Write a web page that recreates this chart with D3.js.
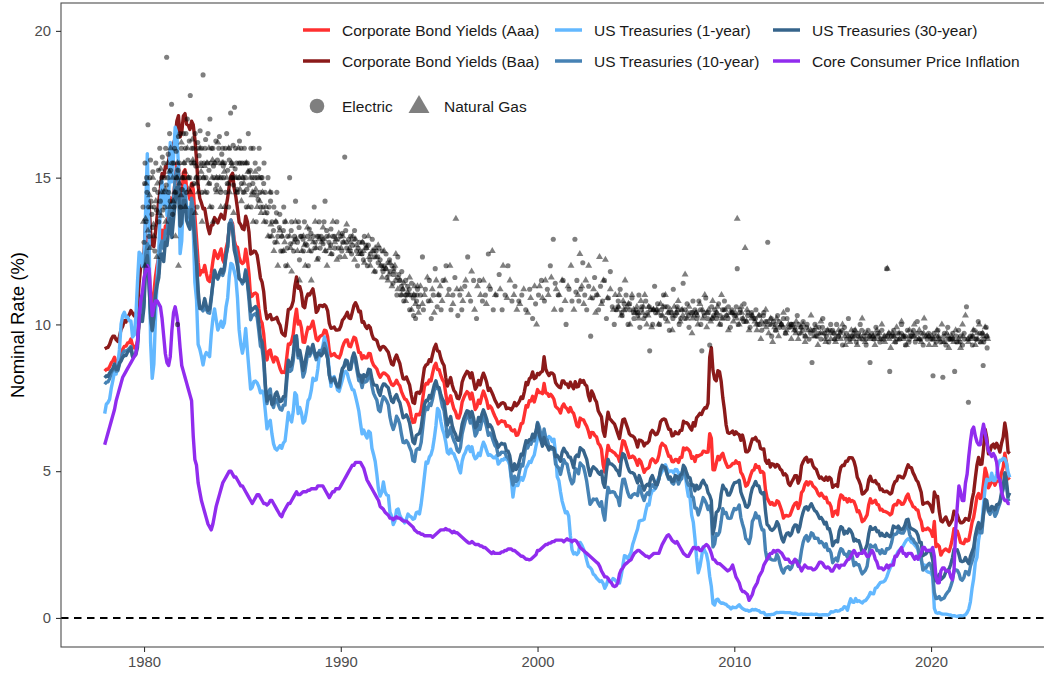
<!DOCTYPE html>
<html><head><meta charset="utf-8">
<script src="https://cdn.jsdelivr.net/npm/d3@7"></script>
<style>body{margin:0;background:#fff;}svg{display:block;font-family:"Liberation Sans",Arial,Helvetica,sans-serif;}</style>
</head><body>
<svg id="chart" width="1044" height="673"></svg>
<script>
// ---------- DATA ----------
const startYear = 1978; // monthly observations, January 1978 .. January 2024
const seriesNames = ["Corporate Bond Yields (Aaa)","Corporate Bond Yields (Baa)","US Treasuries (1-year)","US Treasuries (10-year)","US Treasuries (30-year)","Core Consumer Price Inflation"];
const seriesColors = ["#FF3030","#8B1A1A","#63B8FF","#4682B4","#36648B","#912CEE"];
const xTicks = [1980,1990,2000,2010,2020];
const yTicks = [0,5,10,15,20];
const shapeNames = ["Electric","Natural Gas"];

const aaa = [
8.41,8.47,8.47,8.56,8.69,8.76,8.88,8.69,8.69,8.89,9.03,9.16,
9.25,9.26,9.37,9.38,9.50,9.29,9.20,9.23,9.44,10.13,10.76,10.74,
11.09,12.38,12.96,12.04,10.99,10.58,11.07,11.64,12.02,12.31,12.97,13.21,
12.81,13.35,13.33,13.88,14.32,13.75,14.38,14.89,15.49,15.40,14.22,14.23,
15.18,15.27,14.58,14.46,14.26,14.81,14.61,13.71,12.94,12.12,11.68,11.83,
11.79,12.01,11.73,11.51,11.46,11.74,12.15,12.51,12.37,12.25,12.41,12.57,
12.20,12.08,12.57,12.81,13.28,13.55,13.44,12.87,12.66,12.63,12.29,12.13,
12.08,12.13,12.56,12.23,11.72,10.94,10.97,11.05,11.07,11.02,10.55,10.16,
10.05,9.67,9.00,8.79,9.09,9.13,8.88,8.72,8.89,8.86,8.68,8.49,
8.36,8.38,8.36,8.85,9.33,9.32,9.42,9.67,10.18,10.52,10.01,10.11,
9.88,9.40,9.39,9.67,9.90,9.86,9.96,10.11,9.82,9.51,9.45,9.57,
9.62,9.64,9.80,9.79,9.57,9.10,8.93,8.96,9.01,8.92,8.89,8.86,
8.99,9.22,9.37,9.46,9.47,9.26,9.24,9.41,9.56,9.53,9.30,9.05,
9.04,8.83,8.93,8.86,8.86,9.01,9.00,8.75,8.61,8.55,8.48,8.31,
8.20,8.29,8.35,8.33,8.28,8.22,8.07,7.95,7.92,7.99,8.10,7.98,
7.91,7.71,7.58,7.46,7.43,7.33,7.17,6.85,6.66,6.67,6.93,6.93,
6.92,7.08,7.48,7.88,7.99,7.97,8.11,8.07,8.34,8.57,8.68,8.46,
8.46,8.26,8.12,8.03,7.65,7.30,7.41,7.57,7.32,7.12,7.02,6.82,
6.81,6.99,7.35,7.50,7.62,7.71,7.65,7.46,7.66,7.39,7.10,7.20,
7.42,7.31,7.55,7.73,7.58,7.41,7.14,7.22,7.15,7.00,6.87,6.76,
6.61,6.67,6.72,6.69,6.69,6.53,6.55,6.52,6.40,6.37,6.41,6.22,
6.24,6.40,6.62,6.64,6.93,7.23,7.19,7.40,7.39,7.55,7.36,7.55,
7.78,7.68,7.68,7.64,7.99,7.67,7.65,7.55,7.62,7.55,7.45,7.21,
7.15,7.10,6.98,7.20,7.29,7.18,7.13,7.02,7.17,7.03,6.97,6.77,
6.55,6.51,6.81,6.76,6.75,6.63,6.53,6.37,6.15,6.32,6.31,6.21,
6.17,5.95,5.89,5.74,5.22,4.97,5.49,5.88,5.72,5.70,5.65,5.62,
5.54,5.50,5.33,5.73,6.04,6.01,5.82,5.65,5.46,5.47,5.52,5.47,
5.36,5.20,5.40,5.33,5.15,4.96,5.06,5.09,5.13,5.35,5.42,5.37,
5.29,5.35,5.53,5.84,5.95,5.89,5.85,5.68,5.51,5.51,5.33,5.32,
5.40,5.39,5.30,5.47,5.47,5.79,5.73,5.79,5.74,5.66,5.44,5.49,
5.33,5.53,5.51,5.55,5.57,5.68,5.67,5.64,5.65,6.28,6.12,5.05,
5.05,5.27,5.50,5.39,5.54,5.61,5.41,5.26,5.13,5.15,5.19,5.26,
5.26,5.35,5.27,5.29,4.96,4.88,4.72,4.49,4.53,4.68,4.87,5.02,
5.04,5.22,5.13,5.16,4.96,4.99,4.93,4.37,4.09,3.98,3.87,3.93,
3.85,3.85,3.99,3.96,3.80,3.64,3.40,3.48,3.49,3.47,3.50,3.65,
3.80,3.90,3.93,3.73,3.89,4.27,4.34,4.54,4.64,4.53,4.63,4.62,
4.49,4.45,4.38,4.24,4.16,4.25,4.16,4.08,4.11,3.92,3.92,3.79,
3.46,3.61,3.64,3.52,3.98,4.19,4.15,4.04,4.07,3.95,4.06,3.97,
4.00,3.96,3.82,3.62,3.65,3.50,3.28,3.32,3.41,3.51,3.86,4.06,
3.92,3.95,4.01,3.87,3.85,3.68,3.70,3.63,3.63,3.60,3.57,3.51,
3.55,3.82,3.87,3.85,4.00,3.96,3.87,3.88,3.98,4.14,4.22,4.02,
3.93,3.79,3.77,3.69,3.67,3.42,3.29,2.98,3.03,3.01,3.06,3.01,
2.94,2.78,3.29,2.43,2.50,2.44,2.14,2.25,2.31,2.35,2.30,2.26,
2.45,2.70,3.04,2.90,2.96,2.79,2.57,2.55,2.53,2.68,2.62,2.65,
2.93,3.25,3.43,3.76,4.13,4.24,4.07,4.13,4.59,5.10,4.90,4.43,
4.53,4.68,4.66,4.52,4.67,4.66,4.66,4.95,5.13,5.61,5.28,4.74,
4.79];

const baa = [
9.17,9.20,9.22,9.32,9.49,9.60,9.60,9.48,9.42,9.59,9.83,9.94,
10.13,10.08,10.26,10.33,10.47,10.38,10.29,10.35,10.54,11.40,11.99,12.06,
12.42,13.57,14.45,14.19,13.17,12.71,12.65,13.15,13.70,14.23,14.64,15.14,
15.03,15.37,15.34,15.56,15.95,15.80,16.17,16.34,16.92,17.11,16.39,16.55,
17.10,17.18,16.82,16.78,16.64,16.92,16.80,16.32,15.63,14.73,14.30,14.14,
13.94,13.95,13.61,13.29,13.09,13.37,13.39,13.64,13.55,13.46,13.61,13.75,
13.65,13.59,13.99,14.31,14.74,15.05,15.15,14.63,14.35,13.94,13.48,13.40,
13.26,13.23,13.69,13.51,13.15,12.40,12.43,12.50,12.48,12.36,11.99,11.58,
11.44,11.11,10.50,10.19,10.29,10.34,10.16,10.18,10.20,10.24,10.07,9.97,
9.72,9.65,9.61,10.04,10.51,10.52,10.61,10.80,11.31,11.62,11.23,11.29,
11.07,10.62,10.57,10.90,11.04,11.00,11.11,11.21,10.90,10.41,10.48,10.65,
10.65,10.61,10.67,10.61,10.46,10.03,9.87,9.88,9.91,9.81,9.81,9.82,
9.94,10.14,10.21,10.30,10.41,10.22,10.20,10.41,10.64,10.74,10.62,10.43,
10.45,10.07,10.09,9.94,9.86,9.96,9.89,9.65,9.51,9.49,9.45,9.26,
9.13,9.23,9.25,9.21,9.13,9.05,8.84,8.65,8.62,8.84,8.96,8.81,
8.67,8.39,8.15,8.14,8.21,8.07,7.93,7.60,7.34,7.31,7.66,7.69,
7.65,7.76,8.13,8.52,8.62,8.65,8.80,8.74,8.98,9.20,9.32,9.10,
9.08,8.85,8.70,8.60,8.20,7.90,8.04,8.19,7.93,7.75,7.68,7.49,
7.47,7.63,8.03,8.19,8.30,8.40,8.35,8.18,8.35,8.07,7.79,7.89,
8.09,7.94,8.18,8.34,8.20,8.02,7.75,7.82,7.70,7.57,7.42,7.32,
7.19,7.25,7.32,7.33,7.30,7.13,7.15,7.14,7.09,7.18,7.34,7.23,
7.29,7.39,7.53,7.48,7.72,8.02,7.95,8.15,8.20,8.38,8.15,8.19,
8.33,8.29,8.37,8.40,8.90,8.48,8.35,8.26,8.35,8.34,8.28,8.02,
7.93,7.87,7.84,8.07,8.07,7.97,7.97,7.85,8.03,7.91,7.81,8.05,
7.87,7.89,8.11,8.03,8.09,7.95,7.90,7.58,7.40,7.73,7.62,7.45,
7.35,7.06,6.95,6.85,6.38,6.19,6.62,7.01,6.79,6.73,6.66,6.60,
6.44,6.27,6.11,6.46,6.75,6.78,6.62,6.46,6.27,6.21,6.20,6.15,
6.02,5.82,6.06,6.05,6.01,5.86,5.95,5.96,6.03,6.30,6.39,6.32,
6.24,6.27,6.41,6.68,6.75,6.78,6.76,6.59,6.43,6.42,6.20,6.22,
6.34,6.28,6.27,6.39,6.39,6.70,6.65,6.65,6.59,6.48,6.40,6.65,
6.54,6.82,6.89,6.97,6.93,7.07,7.16,7.15,7.31,8.88,9.21,8.43,
8.14,8.08,8.42,8.39,8.06,7.50,7.09,6.58,6.31,6.29,6.32,6.37,
6.25,6.34,6.27,6.25,6.05,6.23,6.01,5.66,5.66,5.72,5.92,6.10,
6.09,6.15,6.03,6.02,5.78,5.75,5.76,5.36,5.27,5.37,5.14,5.25,
5.23,5.14,5.23,5.19,5.07,5.02,4.87,4.91,4.84,4.58,4.51,4.63,
4.73,4.85,4.85,4.59,4.73,5.19,5.32,5.42,5.47,5.31,5.38,5.38,
5.19,5.10,5.06,4.90,4.76,4.80,4.73,4.69,4.80,4.69,4.79,4.74,
4.45,4.51,4.54,4.48,4.89,5.13,5.20,5.19,5.34,5.34,5.46,5.46,
5.45,5.34,5.13,4.79,4.68,4.53,4.22,4.24,4.31,4.38,4.71,4.83,
4.66,4.64,4.68,4.57,4.55,4.37,4.39,4.31,4.30,4.32,4.27,4.22,
4.26,4.51,4.64,4.67,4.83,4.83,4.79,4.77,4.88,5.07,5.22,5.13,
5.12,4.95,4.84,4.70,4.63,4.46,4.28,3.87,3.91,3.92,3.94,3.88,
3.77,3.61,4.29,4.13,4.14,3.64,3.31,3.27,3.36,3.44,3.30,3.16,
3.24,3.35,3.64,3.53,3.52,3.35,3.24,3.24,3.29,3.39,3.36,3.33,
3.63,4.02,4.28,4.76,5.21,5.47,5.23,5.24,5.76,6.43,6.14,5.59,
5.69,5.87,5.92,5.79,5.95,5.83,5.65,5.95,6.16,6.64,6.29,5.65,
5.60];

const ust1 = [
6.96,7.28,7.34,7.45,7.82,8.09,8.39,8.31,8.64,9.14,10.01,10.30,
10.41,10.24,10.25,10.12,10.12,9.57,9.64,10.24,11.43,12.46,12.39,11.98,
12.06,13.92,15.82,13.30,9.39,8.16,8.65,10.24,11.52,12.49,14.15,14.88,
14.08,14.57,13.71,14.32,16.20,14.86,15.72,16.72,16.52,15.38,12.41,12.85,
14.32,14.73,13.95,13.98,13.34,14.07,13.24,11.43,10.85,9.32,9.16,8.91,
8.62,8.92,9.04,8.98,8.90,9.66,10.20,10.53,10.16,9.81,9.94,10.11,
9.90,10.04,10.59,10.90,11.66,12.08,12.03,11.82,11.58,10.90,9.82,9.33,
9.02,9.29,9.86,9.14,8.46,7.80,7.86,8.05,8.07,8.01,7.88,7.67,
7.73,7.61,7.03,6.44,6.65,6.73,6.27,5.93,5.77,5.72,5.80,5.87,
5.78,5.96,6.03,6.50,7.00,6.80,6.68,7.03,7.67,7.59,6.96,7.17,
6.99,6.64,6.71,7.01,7.40,7.49,7.75,8.17,8.09,8.11,8.48,8.99,
9.05,9.25,9.57,9.36,8.98,8.44,7.89,8.18,8.22,7.99,7.77,7.72,
7.92,8.11,8.35,8.40,8.32,8.10,7.94,7.78,7.76,7.55,7.31,7.05,
6.64,6.27,6.40,6.24,6.13,6.36,6.31,5.78,5.57,5.33,4.89,4.38,
4.15,4.29,4.63,4.30,4.19,4.17,3.60,3.47,3.18,3.30,3.68,3.71,
3.50,3.39,3.33,3.24,3.36,3.54,3.47,3.44,3.36,3.39,3.58,3.61,
3.54,3.87,4.32,4.82,5.31,5.27,5.48,5.56,5.76,6.11,6.54,7.14,
7.05,6.70,6.43,6.27,6.00,5.64,5.59,5.75,5.62,5.59,5.43,5.31,
5.09,4.94,5.34,5.54,5.64,5.81,5.85,5.67,5.83,5.55,5.42,5.47,
5.61,5.53,5.80,5.99,5.87,5.69,5.54,5.56,5.52,5.46,5.46,5.53,
5.24,5.31,5.39,5.38,5.44,5.41,5.36,5.21,4.71,4.12,4.53,4.52,
4.51,4.70,4.78,4.69,4.85,5.10,5.20,5.33,5.30,5.45,5.55,5.84,
6.12,6.22,6.22,6.15,6.33,6.17,6.08,6.18,6.13,6.01,6.09,5.60,
4.81,4.68,4.30,3.98,3.78,3.58,3.62,3.47,2.82,2.33,2.18,2.22,
2.16,2.23,2.57,2.48,2.35,2.20,1.96,1.76,1.72,1.65,1.49,1.45,
1.36,1.30,1.24,1.27,1.18,1.01,1.12,1.31,1.24,1.25,1.34,1.31,
1.24,1.24,1.19,1.43,1.78,2.12,2.10,2.02,2.12,2.23,2.50,2.67,
2.86,3.03,3.30,3.32,3.33,3.36,3.64,3.87,3.85,4.18,4.33,4.35,
4.45,4.68,4.77,4.90,5.00,5.16,5.22,5.08,4.97,5.01,5.01,4.94,
5.06,5.05,4.92,4.93,4.91,4.96,4.96,4.47,4.14,4.10,3.50,3.26,
2.71,2.05,1.54,1.74,2.06,2.42,2.28,2.18,1.91,1.42,1.07,0.49,
0.44,0.62,0.64,0.55,0.50,0.51,0.48,0.46,0.40,0.37,0.31,0.37,
0.35,0.35,0.40,0.45,0.37,0.32,0.29,0.26,0.26,0.23,0.25,0.29,
0.27,0.29,0.26,0.25,0.19,0.18,0.19,0.11,0.10,0.11,0.11,0.12,
0.12,0.16,0.19,0.18,0.19,0.19,0.19,0.18,0.18,0.18,0.18,0.16,
0.15,0.16,0.15,0.12,0.12,0.14,0.12,0.13,0.12,0.12,0.12,0.13,
0.12,0.12,0.13,0.11,0.10,0.10,0.11,0.11,0.11,0.10,0.13,0.21,
0.20,0.22,0.25,0.23,0.24,0.28,0.30,0.38,0.37,0.26,0.48,0.65,
0.54,0.53,0.66,0.56,0.59,0.55,0.51,0.57,0.59,0.66,0.74,0.87,
0.83,0.82,1.01,1.04,1.12,1.20,1.22,1.23,1.28,1.40,1.56,1.70,
1.80,1.96,2.06,2.15,2.27,2.33,2.39,2.45,2.56,2.65,2.70,2.66,
2.58,2.55,2.49,2.42,2.34,2.00,1.96,1.77,1.80,1.61,1.57,1.55,
1.53,1.41,0.33,0.18,0.16,0.18,0.15,0.13,0.13,0.13,0.12,0.10,
0.10,0.07,0.08,0.06,0.05,0.07,0.08,0.07,0.08,0.11,0.18,0.30,
0.55,1.00,1.34,1.89,2.06,2.65,2.98,3.20,3.86,4.43,4.73,4.68,
4.69,4.93,4.68,4.68,4.91,5.24,5.37,5.37,5.44,5.42,5.28,4.96,
4.79];

const ust10 = [
7.96,8.03,8.04,8.15,8.35,8.46,8.64,8.41,8.42,8.64,8.81,9.01,
9.10,9.10,9.12,9.18,9.25,8.91,8.95,9.03,9.33,10.30,10.65,10.39,
10.80,12.41,12.75,11.47,10.18,9.78,10.25,11.10,11.51,11.75,12.68,12.84,
12.57,13.19,13.12,13.68,14.10,13.47,14.28,14.94,15.32,15.15,13.39,13.72,
14.59,14.43,13.86,13.87,13.62,14.30,13.95,13.06,12.34,10.91,10.55,10.54,
10.46,10.72,10.51,10.40,10.38,10.85,11.38,11.85,11.65,11.54,11.69,11.83,
11.67,11.84,12.32,12.63,13.41,13.56,13.36,12.72,12.52,12.16,11.57,11.50,
11.38,11.51,11.86,11.43,10.85,10.16,10.31,10.33,10.37,10.24,9.78,9.26,
9.19,8.70,7.78,7.30,7.71,7.80,7.30,7.17,7.45,7.43,7.25,7.11,
7.08,7.25,7.25,8.02,8.61,8.40,8.45,8.76,9.42,9.52,8.86,8.99,
8.67,8.21,8.37,8.72,9.09,8.92,9.06,9.26,8.98,8.80,8.96,9.11,
9.09,9.17,9.36,9.18,8.86,8.28,8.02,8.11,8.19,8.01,7.87,7.84,
8.21,8.47,8.59,8.79,8.76,8.48,8.47,8.75,8.89,8.72,8.39,8.08,
8.09,7.85,8.11,8.04,8.07,8.28,8.27,7.90,7.65,7.53,7.42,7.09,
7.03,7.34,7.54,7.48,7.39,7.26,6.84,6.59,6.42,6.59,6.87,6.77,
6.60,6.26,5.98,5.97,6.04,5.96,5.81,5.68,5.36,5.33,5.72,5.77,
5.75,5.97,6.48,6.97,7.18,7.10,7.30,7.24,7.46,7.74,7.96,7.81,
7.78,7.47,7.20,7.06,6.63,6.17,6.28,6.49,6.20,6.04,5.93,5.71,
5.65,5.81,6.27,6.51,6.74,6.91,6.87,6.64,6.83,6.53,6.20,6.30,
6.58,6.42,6.69,6.89,6.71,6.49,6.22,6.30,6.21,6.03,5.88,5.81,
5.54,5.57,5.65,5.64,5.65,5.50,5.46,5.34,4.81,4.53,4.83,4.65,
4.72,5.00,5.23,5.18,5.54,5.90,5.79,5.94,5.92,6.11,6.03,6.28,
6.66,6.52,6.26,5.99,6.44,6.10,6.05,5.83,5.80,5.74,5.72,5.24,
5.16,5.10,4.89,5.14,5.39,5.28,5.24,4.97,4.73,4.57,4.65,5.09,
5.04,4.91,5.28,5.21,5.16,4.93,4.65,4.26,3.87,3.94,4.05,4.03,
4.05,3.90,3.81,3.96,3.57,3.33,3.98,4.45,4.27,4.29,4.30,4.27,
4.15,4.08,3.83,4.35,4.72,4.73,4.50,4.28,4.13,4.10,4.19,4.23,
4.22,4.17,4.50,4.34,4.14,4.00,4.18,4.26,4.20,4.46,4.54,4.47,
4.42,4.57,4.72,4.99,5.11,5.11,5.09,4.88,4.72,4.73,4.60,4.56,
4.76,4.72,4.56,4.69,4.75,5.10,5.00,4.67,4.52,4.53,4.15,4.10,
3.74,3.74,3.51,3.68,3.88,4.10,4.01,3.89,3.69,3.81,3.53,2.42,
2.52,2.87,2.82,2.93,3.29,3.72,3.56,3.59,3.40,3.39,3.40,3.59,
3.73,3.69,3.73,3.85,3.42,3.20,3.01,2.70,2.65,2.54,2.76,3.29,
3.39,3.58,3.41,3.46,3.17,3.00,3.00,2.30,1.98,2.15,2.01,1.98,
1.97,1.97,2.17,2.05,1.80,1.62,1.53,1.68,1.72,1.75,1.65,1.72,
1.91,1.98,1.96,1.76,1.93,2.30,2.58,2.74,2.81,2.62,2.72,2.90,
2.86,2.71,2.72,2.71,2.56,2.60,2.54,2.42,2.53,2.30,2.33,2.21,
1.88,1.98,2.04,1.94,2.20,2.36,2.32,2.17,2.17,2.07,2.26,2.24,
2.09,1.78,1.89,1.81,1.81,1.64,1.50,1.56,1.63,1.76,2.14,2.49,
2.43,2.42,2.48,2.30,2.30,2.19,2.32,2.21,2.20,2.36,2.35,2.40,
2.58,2.86,2.84,2.87,2.98,2.91,2.89,2.89,3.00,3.15,3.12,2.83,
2.71,2.68,2.57,2.53,2.40,2.07,2.06,1.63,1.70,1.71,1.81,1.86,
1.76,1.50,0.87,0.66,0.67,0.73,0.62,0.65,0.68,0.79,0.87,0.93,
1.08,1.26,1.61,1.64,1.62,1.52,1.32,1.28,1.37,1.58,1.56,1.47,
1.76,1.93,2.13,2.75,2.90,3.14,2.90,2.90,3.52,3.98,3.89,3.62,
3.53,3.75,3.66,3.46,3.57,3.75,3.90,4.17,4.38,4.80,4.50,4.02,
4.06];

const ust30 = [
8.18,8.25,8.23,8.34,8.43,8.50,8.65,8.47,8.47,8.69,8.75,8.88,
8.94,8.94,9.06,9.12,9.20,8.90,8.92,8.97,9.21,10.07,10.31,10.10,
10.60,12.13,12.34,11.40,10.36,9.81,10.24,11.00,11.34,11.59,12.37,12.40,
12.14,12.80,12.69,13.20,13.60,12.96,13.59,14.17,14.67,14.68,13.35,13.45,
14.22,14.22,13.53,13.37,13.24,13.92,13.55,12.77,12.07,11.17,10.54,10.54,
10.63,10.88,10.63,10.48,10.53,10.93,11.40,11.82,11.63,11.58,11.75,11.88,
11.75,11.95,12.38,12.65,13.43,13.44,13.21,12.54,12.29,11.98,11.56,11.52,
11.45,11.47,11.81,11.47,11.05,10.45,10.50,10.56,10.61,10.50,10.06,9.54,
9.40,8.93,7.96,7.39,7.52,7.57,7.27,7.33,7.62,7.70,7.52,7.37,
7.39,7.54,7.55,8.25,8.78,8.57,8.64,8.97,9.59,9.61,8.95,9.12,
8.83,8.43,8.63,8.95,9.23,9.00,9.14,9.32,9.06,8.89,9.02,9.01,
8.93,9.01,9.17,9.03,8.83,8.27,8.08,8.12,8.15,8.00,7.90,7.90,
8.26,8.50,8.56,8.76,8.73,8.46,8.50,8.86,9.03,8.86,8.54,8.24,
8.27,8.03,8.29,8.21,8.27,8.47,8.45,8.14,7.95,7.93,7.92,7.70,
7.58,7.85,7.97,7.96,7.89,7.84,7.60,7.39,7.34,7.53,7.61,7.44,
7.34,7.09,6.82,6.85,6.92,6.81,6.63,6.32,6.00,5.94,6.21,6.25,
6.29,6.49,6.91,7.27,7.41,7.40,7.58,7.49,7.71,7.94,8.08,7.87,
7.85,7.61,7.45,7.36,6.95,6.57,6.72,6.86,6.55,6.37,6.26,6.06,
6.05,6.24,6.60,6.79,6.93,7.06,7.03,6.84,7.03,6.81,6.48,6.55,
6.83,6.69,6.93,7.09,6.94,6.77,6.51,6.58,6.50,6.33,6.11,5.99,
5.81,5.89,5.95,5.92,5.93,5.70,5.68,5.54,5.20,5.01,5.25,5.06,
5.16,5.37,5.58,5.55,5.81,6.04,5.98,6.07,6.07,6.26,6.15,6.35,
6.63,6.23,6.05,5.85,6.15,5.93,5.85,5.72,5.83,5.80,5.78,5.49,
5.54,5.45,5.34,5.65,5.78,5.67,5.61,5.48,5.48,5.32,5.12,5.48,
5.55,5.50,5.80,5.75,5.70,5.55,5.40,5.10,4.85,5.05,5.15,5.10,
5.05,4.95,4.90,5.00,4.60,4.45,5.00,5.40,5.25,5.25,5.20,5.15,
5.05,5.00,4.85,5.35,5.60,5.55,5.35,5.15,5.00,4.95,4.95,4.90,
4.75,4.60,4.85,4.70,4.50,4.35,4.50,4.55,4.50,4.75,4.85,4.70,
4.55,4.54,4.73,5.06,5.20,5.15,5.13,4.91,4.77,4.80,4.65,4.66,
4.85,4.82,4.72,4.87,4.90,5.20,5.11,4.93,4.79,4.77,4.52,4.53,
4.33,4.52,4.39,4.44,4.60,4.69,4.57,4.50,4.27,4.17,4.00,2.87,
3.13,3.59,3.64,3.76,4.23,4.52,4.41,4.37,4.19,4.19,4.31,4.49,
4.60,4.62,4.64,4.69,4.29,4.13,3.99,3.80,3.77,3.87,4.19,4.42,
4.52,4.65,4.51,4.50,4.29,4.23,4.27,3.65,3.18,3.13,3.02,2.98,
3.03,3.11,3.28,3.18,2.93,2.70,2.59,2.77,2.88,2.90,2.80,2.88,
3.08,3.17,3.16,2.93,3.11,3.40,3.61,3.76,3.79,3.68,3.80,3.89,
3.77,3.66,3.62,3.52,3.39,3.42,3.33,3.20,3.26,3.04,3.04,2.83,
2.46,2.57,2.63,2.59,2.96,3.11,3.07,2.86,2.95,2.89,3.03,2.97,
2.86,2.62,2.68,2.62,2.63,2.45,2.23,2.26,2.35,2.50,2.86,3.11,
3.02,3.03,3.08,2.94,2.96,2.80,2.88,2.80,2.78,2.88,2.80,2.77,
2.88,3.13,3.09,3.07,3.13,3.05,3.01,3.04,3.15,3.34,3.36,3.10,
3.04,3.02,2.98,2.94,2.82,2.57,2.57,2.12,2.16,2.19,2.28,2.30,
2.22,1.97,1.46,1.27,1.38,1.49,1.31,1.36,1.42,1.57,1.62,1.67,
1.82,2.04,2.34,2.30,2.32,2.16,1.94,1.92,1.94,2.06,1.94,1.85,
2.10,2.25,2.41,2.81,3.07,3.25,3.04,3.13,3.56,4.04,4.00,3.66,
3.66,3.80,3.77,3.68,3.86,3.87,3.96,4.28,4.47,4.95,4.66,4.14,
4.26];

const coreCPI = [
5.9,6.1,6.3,6.5,6.7,6.9,7.1,7.4,7.6,7.8,8.0,8.2,
8.3,8.4,8.5,8.6,8.7,8.8,8.9,9.0,9.4,10.2,10.8,11.1,
11.6,11.8,12.0,11.9,11.0,10.3,10.6,10.8,10.8,10.7,10.6,10.2,
9.6,9.0,8.7,8.6,8.9,9.8,10.4,10.6,10.3,9.9,9.2,8.6,
8.4,8.2,8.0,7.8,7.6,7.4,6.2,5.4,5.2,4.6,4.3,4.0,
3.8,3.6,3.4,3.2,3.1,3.0,3.2,3.5,3.8,4.0,4.2,4.4,
4.6,4.7,4.8,4.9,5.0,5.0,4.9,4.8,4.8,4.7,4.6,4.5,
4.5,4.4,4.3,4.2,4.1,4.0,3.9,4.0,4.1,4.2,4.2,4.1,
4.0,3.9,3.9,3.85,3.9,4.0,4.0,3.9,3.8,3.7,3.6,3.5,
3.45,3.6,3.7,3.8,3.9,3.9,4.0,4.1,4.2,4.3,4.2,4.2,
4.25,4.3,4.3,4.3,4.35,4.35,4.4,4.4,4.4,4.4,4.5,4.5,
4.5,4.5,4.4,4.3,4.2,4.1,4.2,4.3,4.3,4.4,4.4,4.4,
4.5,4.6,4.7,4.8,4.9,5.0,5.1,5.2,5.2,5.3,5.3,5.3,
5.3,5.2,5.1,4.9,4.7,4.6,4.5,4.4,4.3,4.2,4.1,4.0,
3.8,3.75,3.7,3.6,3.55,3.5,3.4,3.4,3.35,3.4,3.45,3.4,
3.4,3.35,3.3,3.3,3.3,3.25,3.2,3.15,3.1,3.0,2.95,2.9,
2.9,2.85,2.85,2.8,2.8,2.8,2.8,2.8,2.75,2.8,2.85,2.9,
2.95,3.0,3.0,3.0,3.05,3.0,3.0,2.95,2.9,2.95,2.9,2.9,
2.85,2.8,2.75,2.7,2.65,2.6,2.55,2.55,2.6,2.55,2.5,2.5,
2.5,2.45,2.45,2.4,2.4,2.35,2.3,2.25,2.2,2.25,2.2,2.2,
2.2,2.2,2.25,2.25,2.3,2.3,2.35,2.35,2.35,2.3,2.3,2.25,
2.2,2.15,2.1,2.1,2.05,2.0,2.0,1.98,2.0,2.05,2.1,2.15,
2.3,2.3,2.35,2.4,2.45,2.5,2.5,2.55,2.55,2.6,2.6,2.65,
2.65,2.65,2.65,2.65,2.6,2.65,2.7,2.65,2.65,2.6,2.65,2.65,
2.6,2.5,2.4,2.35,2.3,2.25,2.2,2.15,2.1,2.05,2.0,1.95,
1.9,1.85,1.75,1.6,1.5,1.4,1.4,1.35,1.25,1.2,1.1,1.07,
1.1,1.2,1.5,1.64,1.7,1.8,1.85,1.9,1.95,1.98,2.1,2.2,
2.25,2.3,2.3,2.25,2.2,2.15,2.1,2.1,2.05,2.1,2.15,2.2,
2.2,2.2,2.2,2.35,2.5,2.6,2.7,2.8,2.83,2.75,2.65,2.6,
2.55,2.6,2.5,2.4,2.3,2.2,2.15,2.1,2.1,2.2,2.3,2.4,
2.4,2.35,2.4,2.3,2.3,2.4,2.45,2.5,2.45,2.35,2.2,2.0,
1.98,1.9,1.85,1.85,1.8,1.75,1.7,1.65,1.6,1.64,1.7,1.8,
1.6,1.4,1.3,1.2,1.0,0.9,0.9,0.85,0.8,0.6,0.7,0.8,
1.0,1.1,1.2,1.4,1.5,1.6,1.8,1.9,2.0,2.1,2.2,2.2,
2.3,2.25,2.3,2.3,2.25,2.2,2.1,2.0,2.0,2.0,1.9,1.87,
1.9,2.0,1.9,1.8,1.74,1.6,1.7,1.8,1.74,1.7,1.7,1.7,
1.64,1.65,1.7,1.8,1.9,1.9,1.85,1.75,1.7,1.74,1.7,1.6,
1.6,1.7,1.8,1.8,1.7,1.8,1.8,1.8,1.9,1.98,2.0,2.1,
2.2,2.3,2.2,2.1,2.2,2.2,2.2,2.3,2.2,2.1,2.1,2.2,
2.3,2.2,2.0,1.9,1.7,1.7,1.7,1.64,1.7,1.8,1.7,1.8,
1.8,1.8,2.1,2.1,2.2,2.3,2.4,2.2,2.2,2.1,2.2,2.2,
2.2,2.1,2.0,2.1,2.0,2.1,2.2,2.4,2.4,2.3,2.3,2.3,
2.3,2.4,2.1,1.4,1.2,1.2,1.6,1.7,1.7,1.6,1.6,1.6,
1.4,1.3,1.6,3.0,3.8,4.5,4.3,4.0,4.0,4.6,4.9,5.5,
6.0,6.4,6.5,6.2,6.0,5.9,5.9,6.3,6.6,6.3,6.0,5.7,
5.6,5.5,5.6,5.5,5.3,4.8,4.7,4.3,4.1,4.0,4.0,3.9,
3.9];

// authorized returns on equity in rate cases: [decision date (decimal year), ROE %]
const electric = [
[1979.95,14.0],[1980.0,12.8],[1980.05,15.5],[1980.1,13.5],[1980.15,14.5],[1980.2,16.8],[1980.25,13.0],[1980.3,15.0],[1980.35,14.2],[1980.4,13.75],[1980.45,15.2],[1980.5,14.0],[1980.55,12.5],[1980.6,15.5],[1980.7,14.5],[1980.75,13.5],[1980.8,16.0],[1980.85,14.85],[1980.9,15.0],[1980.95,13.9],
[1980.03,14.8],[1980.13,15.0],[1980.23,14.0],[1980.33,15.6],[1980.43,13.3],[1980.53,14.6],[1980.63,13.9],[1980.73,15.25],[1980.83,14.2],[1980.93,15.7],
[1981.0,15.5],[1981.05,14.0],[1981.1,16.0],[1981.15,19.1],[1981.2,15.0],[1981.25,14.5],[1981.3,16.5],[1981.35,15.25],[1981.4,17.5],[1981.45,13.75],[1981.5,15.5],[1981.55,16.0],[1981.6,14.5],[1981.65,15.0],[1981.7,10.0],[1981.75,16.4],[1981.8,15.5],[1981.85,14.0],[1981.9,16.0],[1981.95,15.0],
[1981.03,15.0],[1981.13,14.75],[1981.23,15.8],[1981.33,14.2],[1981.43,15.5],[1981.53,14.0],[1981.63,15.9],[1981.73,15.25],[1981.83,16.5],[1981.93,14.6],
[1982.0,16.5],[1982.05,15.5],[1982.1,16.0],[1982.15,14.5],[1982.2,17.0],[1982.25,15.0],[1982.3,16.25],[1982.35,17.8],[1982.4,15.5],[1982.45,14.75],[1982.5,16.0],[1982.55,15.5],[1982.6,16.5],[1982.65,15.0],[1982.7,14.0],[1982.75,16.0],[1982.8,15.75],[1982.85,16.6],[1982.9,15.5],[1982.95,14.5],
[1982.03,15.0],[1982.13,16.5],[1982.23,15.6],[1982.33,15.0],[1982.43,16.0],[1982.53,14.8],[1982.63,15.4],[1982.73,16.2],[1982.83,15.0],[1982.93,16.0],
[1983.0,18.5],[1983.05,15.5],[1983.1,16.0],[1983.15,15.0],[1983.2,14.5],[1983.25,16.5],[1983.3,15.25],[1983.35,17.0],[1983.4,15.5],[1983.45,14.0],[1983.5,16.0],[1983.55,15.0],[1983.6,15.5],[1983.65,16.25],[1983.7,14.75],[1983.75,15.0],[1983.8,16.0],[1983.85,15.5],[1983.9,14.5],[1983.95,15.8],
[1983.03,15.0],[1983.13,16.3],[1983.23,15.5],[1983.33,14.8],[1983.43,16.0],[1983.53,15.4],[1983.63,14.6],[1983.73,15.6],[1983.83,16.4],[1983.93,15.0],
[1984.0,16.0],[1984.05,15.0],[1984.1,15.5],[1984.15,14.5],[1984.2,16.5],[1984.25,15.25],[1984.3,14.0],[1984.35,16.0],[1984.4,17.2],[1984.45,15.5],[1984.5,15.0],[1984.55,14.75],[1984.6,17.4],[1984.65,16.0],[1984.7,15.5],[1984.75,14.5],[1984.8,15.0],[1984.85,16.25],[1984.9,15.5],[1984.95,14.8],
[1984.03,15.4],[1984.13,16.0],[1984.23,14.8],[1984.33,15.6],[1984.43,15.0],[1984.53,16.1],[1984.63,15.3],[1984.73,14.6],[1984.83,15.5],[1984.93,16.0],
[1985.0,15.5],[1985.05,14.5],[1985.1,16.0],[1985.15,15.0],[1985.2,14.0],[1985.25,15.5],[1985.3,16.5],[1985.35,14.75],[1985.4,15.25],[1985.45,14.0],[1985.5,15.0],[1985.55,16.0],[1985.6,14.5],[1985.65,15.5],[1985.7,13.5],[1985.75,15.0],[1985.8,14.25],[1985.85,16.0],[1985.9,14.5],[1985.95,15.0],
[1985.03,15.0],[1985.13,15.5],[1985.23,14.6],[1985.33,15.2],[1985.43,16.0],[1985.53,14.8],[1985.63,15.0],[1985.73,14.4],[1985.83,15.3],[1985.93,14.0],
[1986.0,15.0],[1986.05,14.0],[1986.1,15.5],[1986.15,14.5],[1986.2,13.5],[1986.3,15.0],[1986.35,14.0],[1986.4,13.0],[1986.45,14.5],[1986.5,13.5],[1986.6,14.0],[1986.65,12.8],[1986.7,13.5],[1986.75,14.5],[1986.8,13.0],[1986.9,13.75],[1986.95,12.5],
[1986.08,14.8],[1986.25,13.8],[1986.43,14.2],[1986.58,13.2],[1986.73,13.8],[1986.88,13.3],
[1987.0,13.0],[1987.05,12.5],[1987.1,14.0],[1987.15,13.5],[1987.2,12.0],[1987.3,13.0],[1987.4,15.0],[1987.45,12.75],[1987.5,13.5],[1987.6,12.5],[1987.65,13.0],[1987.7,14.2],[1987.8,12.8],[1987.85,13.5],[1987.9,12.2],[1987.95,13.0],
[1987.08,13.2],[1987.28,12.6],[1987.48,13.2],[1987.68,12.9],[1987.88,13.3],
[1988.0,13.0],[1988.1,12.5],[1988.15,13.5],[1988.2,12.75],[1988.3,13.0],[1988.35,12.0],[1988.4,13.25],[1988.5,12.5],[1988.6,13.0],[1988.65,14.0],[1988.7,12.8],[1988.8,13.0],[1988.85,12.25],[1988.9,13.5],[1988.95,12.6],
[1988.08,12.9],[1988.28,12.7],[1988.48,13.1],[1988.68,12.6],[1988.88,13.0],
[1989.0,13.0],[1989.1,12.75],[1989.15,13.5],[1989.2,14.2],[1989.25,12.5],[1989.3,13.0],[1989.4,12.8],[1989.5,13.25],[1989.55,12.4],[1989.6,13.0],[1989.7,12.6],[1989.8,13.5],[1989.85,12.9],[1989.95,12.3],
[1989.08,12.9],[1989.28,13.2],[1989.48,12.7],[1989.68,13.0],[1989.88,12.6],
[1990.0,13.0],[1990.05,12.5],[1990.1,12.8],[1990.2,15.7],[1990.25,13.2],[1990.3,12.6],[1990.4,12.9],[1990.5,13.0],[1990.55,12.4],[1990.6,12.7],[1990.7,13.2],[1990.8,12.5],[1990.85,12.0],[1990.95,12.8],
[1990.08,13.1],[1990.28,12.8],[1990.48,12.5],[1990.68,12.9],[1990.88,12.6],
[1991.0,12.5],[1991.1,12.8],[1991.15,12.2],[1991.2,13.0],[1991.3,12.6],[1991.35,12.0],[1991.4,12.7],[1991.5,12.4],[1991.6,12.9],[1991.7,12.3],[1991.75,11.8],[1991.8,12.5],[1991.9,12.1],[1991.95,12.6],
[1991.08,12.4],[1991.28,12.7],[1991.48,12.2],[1991.68,12.5],[1991.88,12.3],
[1992.0,12.2],[1992.1,12.5],[1992.15,11.8],[1992.2,12.0],[1992.3,12.4],[1992.35,11.6],[1992.4,12.1],[1992.5,11.8],[1992.6,12.0],[1992.65,11.4],[1992.7,11.9],[1992.8,11.5],[1992.85,11.0],[1992.9,12.3],[1992.95,11.7],
[1992.08,12.0],[1992.28,11.9],[1992.48,12.2],[1992.68,11.7],[1992.88,11.6],
[1993.0,11.5],[1993.05,11.0],[1993.1,11.8],[1993.15,11.2],[1993.2,10.8],[1993.3,11.5],[1993.35,11.0],[1993.4,11.3],[1993.5,10.5],[1993.55,11.0],[1993.6,11.4],[1993.7,10.3],[1993.75,11.0],[1993.8,10.2],[1993.85,10.8],[1993.9,11.2],[1993.95,10.6],
[1993.08,11.3],[1993.28,11.0],[1993.48,11.2],[1993.68,10.9],[1993.88,11.0],
[1994.05,11.0],[1994.15,12.3],[1994.2,10.5],[1994.3,11.2],[1994.45,10.8],[1994.5,11.5],[1994.6,10.2],[1994.7,11.0],[1994.8,11.9],[1994.9,10.6],
[1995.0,11.0],[1995.1,10.5],[1995.2,11.5],[1995.35,12.0],[1995.5,11.2],[1995.6,10.5],[1995.7,11.0],[1995.8,11.6],[1995.95,10.3],
[1996.05,11.0],[1996.15,10.5],[1996.3,11.3],[1996.45,12.3],[1996.6,10.8],[1996.75,11.5],[1996.9,10.2],
[1997.05,11.5],[1997.2,10.8],[1997.35,11.0],[1997.5,12.4],[1997.6,11.2],[1997.75,10.5],[1997.9,11.0],
[1998.05,11.7],[1998.2,10.5],[1998.35,11.0],[1998.5,12.0],[1998.7,10.8],[1998.85,11.3],
[1999.05,10.8],[1999.2,11.0],[1999.4,10.5],[1999.6,11.2],[1999.75,10.2],[1999.9,10.7],
[2000.05,11.0],[2000.2,11.5],[2000.35,10.8],[2000.5,11.2],[2000.65,12.0],[2000.8,12.9],[2000.9,11.4],
[2001.05,11.0],[2001.2,10.5],[2001.3,11.5],[2001.45,10.0],[2001.6,11.2],[2001.75,10.8],[2001.9,12.9],[2001.95,11.1],
[2002.0,11.5],[2002.1,10.8],[2002.2,11.2],[2002.3,12.1],[2002.4,11.0],[2002.5,10.5],[2002.6,11.3],[2002.7,9.6],[2002.8,10.9],[2002.9,11.6],
[2003.0,11.0],[2003.1,10.5],[2003.2,11.3],[2003.3,10.8],[2003.4,11.5],[2003.5,10.2],[2003.6,10.9],[2003.7,11.8],[2003.8,10.6],[2003.9,10.0],
[2004.0,10.5],[2004.1,10.8],[2004.2,11.2],[2004.3,10.3],[2004.4,10.7],[2004.5,11.0],[2004.6,10.0],[2004.7,10.5],[2004.8,10.9],[2004.9,10.2],
[2004.08,10.6],[2004.28,10.4],[2004.48,10.5],[2004.68,10.7],[2004.88,10.4],
[2005.0,10.5],[2005.1,10.3],[2005.15,11.0],[2005.2,9.9],[2005.3,10.6],[2005.4,10.2],[2005.5,10.8],[2005.6,10.4],[2005.7,9.1],[2005.75,10.5],[2005.85,10.0],[2005.95,11.3],
[2005.08,10.4],[2005.28,10.5],[2005.48,10.3],[2005.68,10.6],[2005.88,10.5],
[2006.0,10.4],[2006.1,10.7],[2006.2,10.0],[2006.3,10.5],[2006.4,11.0],[2006.5,10.2],[2006.6,10.6],[2006.7,9.8],[2006.8,10.4],[2006.9,11.2],
[2006.08,10.5],[2006.28,10.3],[2006.48,10.6],[2006.68,10.4],[2006.88,10.2],
[2007.0,10.3],[2007.1,10.6],[2007.2,10.0],[2007.3,10.5],[2007.4,11.4],[2007.5,10.2],[2007.6,10.7],[2007.7,9.9],[2007.8,10.4],[2007.9,10.8],
[2007.08,10.4],[2007.28,10.2],[2007.48,10.5],[2007.68,10.3],[2007.88,10.4],
[2008.0,10.5],[2008.1,10.2],[2008.2,10.8],[2008.3,10.0],[2008.35,9.1],[2008.45,10.4],[2008.55,10.9],[2008.65,10.2],[2008.75,9.3],[2008.85,10.6],[2008.95,10.3],
[2008.08,10.4],[2008.28,10.5],[2008.48,10.3],[2008.68,10.4],[2008.88,10.2],
[2009.0,10.5],[2009.1,10.2],[2009.2,10.7],[2009.3,10.0],[2009.4,10.5],[2009.5,10.8],[2009.6,10.3],[2009.7,10.6],[2009.8,9.9],[2009.9,10.4],
[2009.08,10.4],[2009.28,10.3],[2009.48,10.5],[2009.68,10.2],[2009.88,10.5],
[2010.0,10.3],[2010.1,10.6],[2010.15,11.9],[2010.2,10.0],[2010.3,10.5],[2010.4,10.2],[2010.5,10.7],[2010.6,10.1],[2010.7,10.4],[2010.8,9.9],[2010.9,10.3],
[2010.08,10.3],[2010.28,10.4],[2010.48,10.1],[2010.68,10.3],[2010.88,10.4],
[2011.0,10.2],[2011.1,10.5],[2011.2,10.0],[2011.3,10.3],[2011.4,9.8],[2011.5,10.4],[2011.6,10.1],[2011.7,12.8],[2011.8,10.0],[2011.9,9.6],
[2011.08,10.2],[2011.28,10.0],[2011.48,10.3],[2011.68,10.1],[2011.88,10.2],
[2012.0,10.1],[2012.1,9.8],[2012.2,10.3],[2012.3,9.9],[2012.4,10.0],[2012.5,10.2],[2012.6,9.7],[2012.7,10.5],[2012.8,9.9],[2012.9,10.0],
[2012.08,10.0],[2012.28,10.1],[2012.48,9.9],[2012.68,10.2],[2012.88,10.0],
[2013.0,10.0],[2013.1,9.8],[2013.2,10.3],[2013.3,9.7],[2013.4,9.9],[2013.5,10.1],[2013.6,9.6],[2013.7,10.0],[2013.8,9.5],[2013.95,8.7],
[2013.08,9.9],[2013.28,10.0],[2013.48,9.8],[2013.68,9.9],[2013.88,9.7],
[2014.0,9.8],[2014.1,10.0],[2014.2,9.6],[2014.3,9.9],[2014.4,9.5],[2014.5,10.2],[2014.6,9.7],[2014.7,9.8],[2014.8,9.4],[2014.9,10.0],
[2014.08,9.8],[2014.28,9.7],[2014.48,9.9],[2014.68,9.6],[2014.88,9.8],
[2015.0,9.8],[2015.1,9.5],[2015.2,10.0],[2015.3,9.6],[2015.4,9.75],[2015.5,9.3],[2015.6,9.9],[2015.7,9.5],[2015.8,10.2],[2015.9,9.6],
[2015.08,9.7],[2015.28,9.6],[2015.48,9.8],[2015.68,9.7],[2015.88,9.5],
[2016.0,9.6],[2016.1,9.8],[2016.2,9.4],[2016.3,9.7],[2016.4,10.0],[2016.5,9.5],[2016.6,9.6],[2016.7,9.3],[2016.8,9.8],[2016.9,8.7],
[2016.08,9.7],[2016.28,9.6],[2016.48,9.8],[2016.68,9.5],[2016.88,9.6],
[2017.0,9.7],[2017.1,9.5],[2017.2,9.9],[2017.3,9.6],[2017.4,9.4],[2017.5,9.8],[2017.6,9.5],[2017.75,11.9],[2017.8,9.6],[2017.9,8.4],
[2017.08,9.6],[2017.28,9.7],[2017.48,9.5],[2017.68,9.6],[2017.88,9.7],
[2018.0,9.6],[2018.1,9.8],[2018.2,9.4],[2018.3,9.7],[2018.4,9.5],[2018.5,10.0],[2018.6,9.6],[2018.7,9.3],[2018.8,9.8],[2018.9,9.5],
[2018.08,9.6],[2018.28,9.5],[2018.48,9.7],[2018.68,9.6],[2018.88,9.4],
[2019.0,9.6],[2019.1,9.8],[2019.2,9.4],[2019.3,10.1],[2019.4,9.5],[2019.5,9.7],[2019.6,9.3],[2019.7,9.9],[2019.8,9.5],[2019.9,9.6],
[2019.08,9.6],[2019.28,9.7],[2019.48,9.5],[2019.68,9.6],[2019.88,9.7],
[2020.0,9.5],[2020.1,8.25],[2020.15,9.7],[2020.25,9.4],[2020.35,9.8],[2020.45,9.5],[2020.6,8.2],[2020.65,9.6],[2020.75,9.3],[2020.85,9.9],[2020.95,9.5],
[2020.08,9.5],[2020.28,9.6],[2020.48,9.4],[2020.68,9.7],[2020.88,9.5],
[2021.0,9.5],[2021.1,9.7],[2021.2,8.4],[2021.3,9.4],[2021.4,9.8],[2021.5,9.6],[2021.6,9.3],[2021.7,9.5],[2021.8,10.6],[2021.9,7.35],
[2021.08,9.5],[2021.28,9.6],[2021.48,9.4],[2021.68,9.7],[2021.88,9.5],
[2022.0,9.6],[2022.1,9.3],[2022.2,9.8],[2022.3,9.5],[2022.4,10.1],[2022.5,9.4],[2022.6,9.7],[2022.65,8.6],[2022.7,9.5],[2022.8,9.9],[2022.85,9.2],
[2022.08,9.6],[2022.28,9.5],[2022.48,9.7],[2022.68,9.4],[2022.83,9.6]
];

const naturalGas = [
[1979.97,13.5],[1980.05,12.0],[1980.1,14.8],[1980.2,13.2],[1980.3,12.6],[1980.35,14.0],[1980.45,15.0],[1980.5,13.0],[1980.6,14.2],[1980.65,12.3],[1980.75,13.8],[1980.85,15.3],[1980.9,14.5],
[1980.08,13.6],[1980.28,14.4],[1980.48,13.4],[1980.68,14.8],[1980.88,13.7],
[1981.02,14.5],[1981.1,13.5],[1981.2,15.5],[1981.3,14.0],[1981.35,16.0],[1981.45,15.0],[1981.55,14.5],[1981.6,13.0],[1981.7,15.5],[1981.75,12.0],[1981.8,14.8],[1981.9,16.2],[1981.95,15.0],
[1981.08,14.6],[1981.28,15.2],[1981.48,14.2],[1981.68,15.0],[1981.88,14.4],
[1982.03,15.5],[1982.1,14.0],[1982.2,16.0],[1982.25,15.0],[1982.35,14.5],[1982.45,16.3],[1982.5,15.5],[1982.6,13.8],[1982.65,15.0],[1982.75,14.5],[1982.85,16.0],[1982.9,15.2],[1982.95,13.5],
[1982.08,15.2],[1982.28,14.6],[1982.48,15.6],[1982.68,14.8],[1982.88,15.4],
[1983.02,15.0],[1983.1,14.5],[1983.2,15.5],[1983.3,16.0],[1983.35,14.0],[1983.45,15.0],[1983.5,13.5],[1983.6,15.5],[1983.7,14.5],[1983.75,16.2],[1983.85,15.0],[1983.9,14.0],[1983.97,15.5],
[1983.08,15.4],[1983.28,14.8],[1983.48,15.6],[1983.68,15.0],[1983.88,14.6],
[1984.02,15.5],[1984.1,14.0],[1984.2,15.0],[1984.3,16.0],[1984.35,14.5],[1984.45,15.5],[1984.55,13.8],[1984.6,15.0],[1984.7,14.5],[1984.8,16.0],[1984.85,15.0],[1984.95,14.2],
[1984.08,15.2],[1984.28,14.8],[1984.48,15.4],[1984.68,15.0],[1984.88,14.6],
[1985.02,15.0],[1985.1,14.5],[1985.2,15.5],[1985.3,14.0],[1985.4,15.0],[1985.5,14.5],[1985.55,13.5],[1985.65,15.2],[1985.75,14.0],[1985.85,15.0],[1985.95,13.8],
[1985.08,14.8],[1985.28,15.2],[1985.48,14.4],[1985.68,14.6],[1985.88,14.2],
[1986.02,14.5],[1986.1,13.5],[1986.2,14.0],[1986.3,13.0],[1986.4,14.5],[1986.5,13.0],[1986.6,12.5],[1986.7,13.5],[1986.8,12.0],[1986.9,13.2],
[1986.15,13.8],[1986.45,13.4],[1986.75,12.8],
[1987.02,13.0],[1987.1,12.5],[1987.2,13.5],[1987.3,12.0],[1987.4,13.0],[1987.5,11.8],[1987.6,12.8],[1987.7,13.5],[1987.8,12.5],[1987.9,11.5],
[1987.15,12.8],[1987.45,12.6],[1987.75,12.9],
[1988.02,12.5],[1988.1,13.0],[1988.2,12.0],[1988.3,13.3],[1988.4,12.5],[1988.5,11.5],[1988.6,12.8],[1988.7,13.5],[1988.8,12.2],[1988.9,12.9],
[1988.15,12.7],[1988.45,12.9],[1988.75,12.6],
[1989.02,12.8],[1989.1,13.3],[1989.2,12.5],[1989.3,12.0],[1989.4,13.0],[1989.5,12.4],[1989.6,13.5],[1989.7,12.8],[1989.8,12.2],[1989.9,13.1],
[1989.15,12.9],[1989.45,12.6],[1989.75,12.9],
[1990.02,12.6],[1990.1,13.0],[1990.2,12.3],[1990.3,13.4],[1990.4,12.5],[1990.5,12.8],[1990.6,13.0],[1990.7,12.2],[1990.8,12.7],[1990.9,12.4],
[1990.15,12.8],[1990.45,12.6],[1990.75,12.9],
[1991.02,12.4],[1991.1,12.8],[1991.2,12.1],[1991.3,12.6],[1991.4,13.0],[1991.5,12.0],[1991.6,12.5],[1991.7,11.8],[1991.8,12.3],[1991.9,12.7],
[1991.15,12.5],[1991.45,12.3],[1991.75,12.6],
[1992.02,12.0],[1992.1,11.6],[1992.2,12.5],[1992.3,11.9],[1992.4,11.5],[1992.5,12.1],[1992.6,11.3],[1992.7,11.8],[1992.8,12.4],[1992.9,11.2],
[1992.15,11.9],[1992.45,11.7],[1992.75,12.0],
[1993.02,11.5],[1993.1,11.0],[1993.2,11.4],[1993.3,10.8],[1993.4,11.1],[1993.5,11.6],[1993.6,10.5],[1993.7,11.0],[1993.8,10.7],[1993.9,11.3],[1993.95,10.4],
[1993.15,11.2],[1993.45,11.0],[1993.75,11.3],
[1994.05,11.3],[1994.15,10.7],[1994.25,11.0],[1994.4,11.6],[1994.55,10.8],[1994.65,11.2],[1994.75,10.4],[1994.85,11.5],[1994.95,11.0],
[1995.05,11.3],[1995.15,10.8],[1995.3,11.5],[1995.45,11.0],[1995.55,12.0],[1995.7,10.7],[1995.85,13.6],[1995.9,11.2],
[1996.1,11.2],[1996.2,10.8],[1996.35,11.5],[1996.5,11.0],[1996.65,11.8],[1996.8,10.5],[1996.95,11.3],
[1997.1,11.0],[1997.25,11.5],[1997.4,10.7],[1997.55,11.3],[1997.7,12.5],[1997.85,11.0],
[1998.1,11.2],[1998.25,12.0],[1998.45,10.9],[1998.6,11.5],[1998.8,11.0],[1998.95,10.5],
[1999.1,10.7],[1999.3,11.2],[1999.5,10.4],[1999.65,10.9],[1999.85,11.3],[1999.95,10.0],
[2000.1,11.3],[2000.25,10.9],[2000.4,11.5],[2000.55,11.0],[2000.7,11.6],[2000.85,10.5],[2000.95,11.2],
[2001.1,11.0],[2001.25,11.5],[2001.4,10.8],[2001.55,11.3],[2001.7,12.0],[2001.85,10.5],
[2002.05,11.0],[2002.15,12.4],[2002.25,11.3],[2002.35,10.7],[2002.45,11.5],[2002.6,12.0],[2002.7,10.9],[2002.85,11.2],[2002.95,10.4],
[2003.05,11.0],[2003.15,12.3],[2003.25,10.7],[2003.35,11.5],[2003.45,12.2],[2003.55,10.9],[2003.7,11.2],[2003.85,10.5],[2003.95,11.0],
[2004.05,10.5],[2004.15,11.0],[2004.25,10.3],[2004.35,10.8],[2004.45,11.5],[2004.55,10.6],[2004.7,10.0],[2004.8,11.0],[2004.95,10.4],
[2004.12,10.6],[2004.38,10.5],[2004.62,10.7],[2004.88,10.5],
[2005.05,10.6],[2005.15,10.2],[2005.25,10.8],[2005.35,10.4],[2005.45,11.0],[2005.55,10.0],[2005.65,10.6],[2005.8,9.9],[2005.9,10.5],
[2005.12,10.4],[2005.38,10.6],[2005.62,10.3],[2005.88,10.5],
[2006.05,10.5],[2006.15,10.0],[2006.25,10.7],[2006.35,10.3],[2006.5,11.0],[2006.6,10.1],[2006.75,10.5],[2006.85,9.8],[2006.95,10.6],
[2006.12,10.4],[2006.38,10.6],[2006.62,10.4],[2006.88,10.3],
[2007.05,10.4],[2007.15,10.8],[2007.25,10.1],[2007.35,10.5],[2007.5,11.7],[2007.6,10.2],[2007.7,10.6],[2007.85,9.7],[2007.95,10.3],
[2007.12,10.5],[2007.38,10.3],[2007.62,10.4],[2007.88,10.2],
[2008.05,10.4],[2008.15,10.0],[2008.25,10.7],[2008.4,10.2],[2008.5,11.0],[2008.6,9.9],[2008.7,10.5],[2008.8,10.1],[2008.9,10.8],
[2008.12,10.3],[2008.38,10.5],[2008.62,10.4],[2008.88,10.2],
[2009.05,10.3],[2009.15,10.6],[2009.25,10.0],[2009.35,11.0],[2009.45,10.2],[2009.55,10.5],[2009.7,9.8],[2009.8,10.4],[2009.95,10.1],
[2009.12,10.4],[2009.38,10.2],[2009.62,10.3],[2009.88,10.4],
[2010.05,10.4],[2010.15,13.6],[2010.25,10.0],[2010.35,10.6],[2010.45,10.2],[2010.55,12.6],[2010.65,10.5],[2010.75,9.8],[2010.9,10.3],
[2010.12,10.2],[2010.38,10.4],[2010.62,10.1],[2010.88,10.2],
[2011.05,10.1],[2011.15,9.8],[2011.25,10.3],[2011.35,9.5],[2011.5,10.0],[2011.6,10.5],[2011.75,9.7],[2011.85,10.2],[2011.95,9.4],
[2011.12,10.0],[2011.38,10.1],[2011.62,9.9],[2011.88,10.0],
[2012.05,9.9],[2012.15,10.2],[2012.25,9.6],[2012.4,10.0],[2012.5,10.4],[2012.65,9.8],[2012.75,10.0],[2012.9,9.5],
[2012.12,9.8],[2012.38,10.0],[2012.62,9.7],[2012.88,9.9],
[2013.05,9.8],[2013.15,10.1],[2013.25,9.5],[2013.4,9.7],[2013.5,10.0],[2013.6,9.4],[2013.75,9.8],[2013.9,10.3],
[2013.12,9.7],[2013.38,9.9],[2013.62,9.6],[2013.88,9.8],
[2014.05,9.6],[2014.15,9.9],[2014.25,9.3],[2014.4,10.1],[2014.5,9.7],[2014.65,9.4],[2014.75,9.8],[2014.9,9.5],
[2014.12,9.6],[2014.38,9.7],[2014.62,9.5],[2014.88,9.7],
[2015.05,9.7],[2015.15,9.4],[2015.3,9.8],[2015.4,9.5],[2015.5,10.0],[2015.65,9.3],[2015.8,9.6],[2015.95,9.8],
[2015.12,9.5],[2015.38,9.7],[2015.62,9.6],[2015.88,9.4],
[2016.05,9.5],[2016.15,9.8],[2016.25,9.3],[2016.4,9.6],[2016.5,10.2],[2016.65,9.4],[2016.75,9.7],[2016.9,9.5],
[2016.12,9.6],[2016.38,9.5],[2016.62,9.7],[2016.88,9.6],
[2017.05,9.6],[2017.15,9.3],[2017.25,9.8],[2017.4,9.5],[2017.5,10.0],[2017.65,9.4],[2017.78,11.9],[2017.85,9.7],[2017.95,9.2],
[2017.12,9.5],[2017.38,9.7],[2017.62,9.6],[2017.88,9.5],
[2018.05,9.7],[2018.15,9.4],[2018.25,9.9],[2018.4,9.5],[2018.5,10.1],[2018.6,9.6],[2018.75,9.3],[2018.9,9.8],
[2018.12,9.6],[2018.38,9.7],[2018.62,9.5],[2018.88,9.6],
[2019.05,9.7],[2019.15,10.0],[2019.25,9.5],[2019.4,9.8],[2019.5,9.4],[2019.65,10.2],[2019.75,9.6],[2019.9,9.3],
[2019.12,9.6],[2019.38,9.5],[2019.62,9.7],[2019.88,9.6],
[2020.05,9.6],[2020.2,9.3],[2020.3,9.8],[2020.4,9.5],[2020.55,10.0],[2020.7,9.4],[2020.8,9.7],[2020.9,9.2],
[2020.12,9.5],[2020.38,9.6],[2020.62,9.4],[2020.88,9.6],
[2021.05,9.6],[2021.15,9.4],[2021.25,9.8],[2021.4,9.5],[2021.5,9.2],[2021.6,10.0],[2021.75,10.3],[2021.9,9.4],
[2021.12,9.5],[2021.38,9.4],[2021.62,9.6],[2021.88,9.5],
[2022.05,9.5],[2022.15,9.8],[2022.25,9.3],[2022.35,9.7],[2022.45,10.0],[2022.55,9.4],[2022.65,9.6],[2022.75,9.9],[2022.88,9.5],
[2022.12,9.6],[2022.38,9.5],[2022.62,9.7],[2022.85,9.6]
];

// ---------- DRAW ----------
const svg = d3.select("#chart");
const pL = 61, pT = 3, pB = 647, pR = 1055;
const x = d3.scaleLinear().domain([1975.78, 2026.3]).range([pL, pR]);
const y = d3.scaleLinear().domain([-0.99, 20.95]).range([pB, pT]);
const color = d3.scaleOrdinal().domain(seriesNames).range(seriesColors);

svg.append("defs").append("clipPath").attr("id","clip")
  .append("rect").attr("x",pL).attr("y",pT).attr("width",pR-pL).attr("height",pB-pT);

const plot = svg.append("g").attr("clip-path","url(#clip)");

// zero reference line
plot.append("line").attr("x1",pL).attr("x2",pR).attr("y1",y(0)).attr("y2",y(0))
  .attr("stroke","#000").attr("stroke-width",1.9).attr("stroke-dasharray","7.5,5.5");

// series lines
const seriesData = [aaa, baa, ust1, ust10, ust30, coreCPI];
const line = d3.line().x((d,i)=>x(startYear + i/12)).y(d=>y(d));
seriesData.forEach((s,k)=>{
  plot.append("path").datum(s).attr("d",line).attr("fill","none")
    .attr("stroke",color(seriesNames[k])).attr("stroke-width",3.4)
    .attr("stroke-linejoin","round").attr("stroke-linecap","butt");
});

// rate-case points
const triSym = d3.symbol().type(d3.symbolTriangle).size(21);
plot.append("g").selectAll("circle").data(electric).join("circle")
  .attr("cx",d=>x(d[0])).attr("cy",d=>y(d[1])).attr("r",2.55)
  .attr("fill","#000").attr("fill-opacity",0.5);
plot.append("g").selectAll("path").data(naturalGas).join("path")
  .attr("d",triSym).attr("transform",d=>`translate(${x(d[0])},${y(d[1])})`)
  .attr("fill","#000").attr("fill-opacity",0.5);

// panel border
svg.append("rect").attr("x",pL).attr("y",pT).attr("width",pR-pL).attr("height",pB-pT)
  .attr("fill","none").attr("stroke","#4d4d4d").attr("stroke-width",1.1);

// axes
const yAxis = svg.append("g").attr("transform",`translate(${pL},0)`)
  .call(d3.axisLeft(y).tickValues(yTicks).tickSize(5).tickPadding(5).tickFormat(d3.format("d")));
const xAxis = svg.append("g").attr("transform",`translate(0,${pB})`)
  .call(d3.axisBottom(x).tickValues(xTicks).tickSize(5).tickPadding(4).tickFormat(d3.format("d")));
[yAxis,xAxis].forEach(a=>{
  a.select(".domain").remove();
  a.selectAll(".tick line").attr("stroke","#333").attr("stroke-width",1.1);
  a.selectAll(".tick text").attr("fill","#4d4d4d").style("font-size","14.8px")
    .style("font-family",'"Liberation Sans",Arial,sans-serif');
});

// y title
svg.append("text").attr("transform","translate(24,325) rotate(-90)")
  .attr("text-anchor","middle").attr("fill","#000").style("font-size","18.5px")
  .text("Nominal Rate (%)");

// legend: series lines (2 rows x 3 columns, filled by column)
const legKeyX = [303, 555, 773], legRowY = [30, 61];
const leg = svg.append("g");
seriesNames.forEach((nm,k)=>{
  const c = Math.floor(k/2), r = k%2;
  leg.append("line").attr("x1",legKeyX[c]).attr("x2",legKeyX[c]+27)
    .attr("y1",legRowY[r]).attr("y2",legRowY[r])
    .attr("stroke",color(nm)).attr("stroke-width",3.5);
  leg.append("text").attr("x",legKeyX[c]+39).attr("y",legRowY[r])
    .attr("dy","0.36em").attr("fill","#1a1a1a").style("font-size","15.5px").text(nm);
});
// legend: shapes
const shY = 106;
leg.append("circle").attr("cx",317).attr("cy",shY).attr("r",7.3).attr("fill","#000").attr("fill-opacity",0.5);
leg.append("text").attr("x",342).attr("y",shY).attr("dy","0.36em").attr("fill","#1a1a1a").style("font-size","15.5px").text(shapeNames[0]);
leg.append("path").attr("d",d3.symbol().type(d3.symbolTriangle).size(190))
  .attr("transform",`translate(419,${shY+1})`).attr("fill","#000").attr("fill-opacity",0.5);
leg.append("text").attr("x",444).attr("y",shY).attr("dy","0.36em").attr("fill","#1a1a1a").style("font-size","15.5px").text(shapeNames[1]);
</script>
</body></html>
